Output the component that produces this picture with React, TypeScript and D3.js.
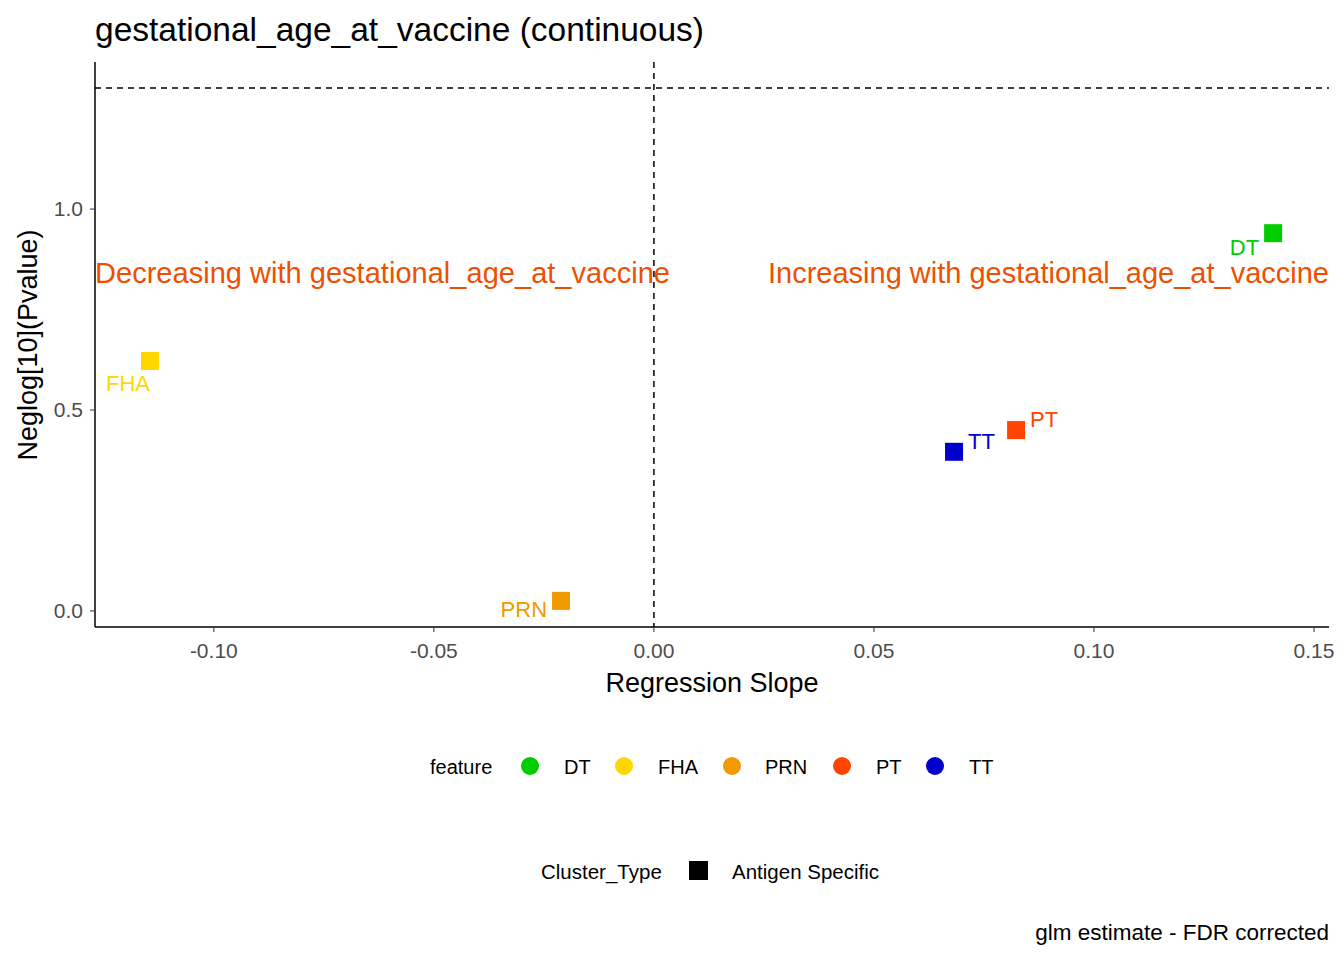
import * as d3 from "d3";

const features = ["DT", "FHA", "PRN", "PT", "TT"];
const colors = ["#00CD00", "#FFD700", "#EE9A00", "#FF4500", "#0000CD"];
const slopes = [0.1407, -0.1145, -0.0211, 0.0823, 0.0682];
const neglogP = [0.94, 0.622, 0.025, 0.45, 0.396];
const xTicks = [-0.1, -0.05, 0, 0.05, 0.1, 0.15];
const yTicks = [0, 0.5, 1.0];
// label offsets [dx, dy, anchor]
const labelPos: [number, number, string][] = [
  [-14, 22, "end"],
  [0, 30, "end"],
  [-14, 16, "end"],
  [14, -3, "start"],
  [14, -3, "start"],
];

const W = 1344, H = 960;
const m = { l: 95, r: 1329, t: 62, b: 627 };

export default function App() {
  const x = d3.scaleLinear([-0.127, 0.1534], [m.l, m.r]);
  const y = d3.scaleLinear([-0.04, 1.366], [m.b, m.t]);
  const font = "Arial, 'Liberation Sans', sans-serif";
  const sig = -Math.log10(0.05);
  const legendX = [530, 624, 732, 842, 935];
  const legendLabelX = [564, 658, 765, 876, 969];
  return (
    <svg width={W} height={H} style={{ position: "absolute", left: 0, top: 0 }} fontFamily={font}>
      <rect width={W} height={H} fill="white" />
      <text x={95} y={41} fontSize={33.5}>gestational_age_at_vaccine (continuous)</text>
      <line x1={m.l} x2={m.l} y1={m.t} y2={m.b} stroke="black" strokeWidth={1.5} />
      <line x1={m.l} x2={m.r} y1={m.b} y2={m.b} stroke="black" strokeWidth={1.5} />
      {xTicks.map((t) => (
        <g key={t}>
          <line x1={x(t)} x2={x(t)} y1={m.b} y2={m.b + 5} stroke="#333" />
          <text x={x(t)} y={658} fontSize={21} fill="#4d4d4d" textAnchor="middle">{t.toFixed(2)}</text>
        </g>
      ))}
      {yTicks.map((t) => (
        <g key={t}>
          <line x1={m.l - 5} x2={m.l} y1={y(t)} y2={y(t)} stroke="#333" />
          <text x={m.l - 12} y={y(t) + 7} fontSize={21} fill="#4d4d4d" textAnchor="end">{t.toFixed(1)}</text>
        </g>
      ))}
      <line x1={m.l} x2={m.r} y1={y(sig)} y2={y(sig)} stroke="black" strokeDasharray="6,5" strokeWidth={1.5} />
      <line x1={x(0)} x2={x(0)} y1={m.t} y2={m.b} stroke="black" strokeDasharray="6,5" strokeWidth={1.5} />
      <text x={95} y={283} fontSize={29} fill="#EE4F00" textLength={575}>Decreasing with gestational_age_at_vaccine</text>
      <text x={768} y={283} fontSize={29} fill="#EE4F00" textLength={561}>Increasing with gestational_age_at_vaccine</text>
      {features.map((f, i) => (
        <g key={f}>
          <rect x={x(slopes[i]) - 9} y={y(neglogP[i]) - 9} width={18} height={18} fill={colors[i]} />
          <text x={x(slopes[i]) + labelPos[i][0]} y={y(neglogP[i]) + labelPos[i][1]} fontSize={22}
            fill={colors[i]} textAnchor={labelPos[i][2] as any}>{f}</text>
        </g>
      ))}
      <text x={712} y={692} fontSize={27} textAnchor="middle">Regression Slope</text>
      <text transform="translate(37,345) rotate(-90)" fontSize={27} textAnchor="middle">Neglog[10](Pvalue)</text>
      <text x={430} y={774} fontSize={20}>feature</text>
      {features.map((f, i) => (
        <g key={f}>
          <circle cx={legendX[i]} cy={766} r={9} fill={colors[i]} />
          <text x={legendLabelX[i]} y={774} fontSize={20}>{f}</text>
        </g>
      ))}
      <text x={541} y={879} fontSize={20.5}>Cluster_Type</text>
      <rect x={689} y={861} width={19} height={19} fill="black" />
      <text x={732} y={879} fontSize={20.5}>Antigen Specific</text>
      <text x={1329} y={940} fontSize={22.5} textAnchor="end">glm estimate - FDR corrected</text>
    </svg>
  );
}
